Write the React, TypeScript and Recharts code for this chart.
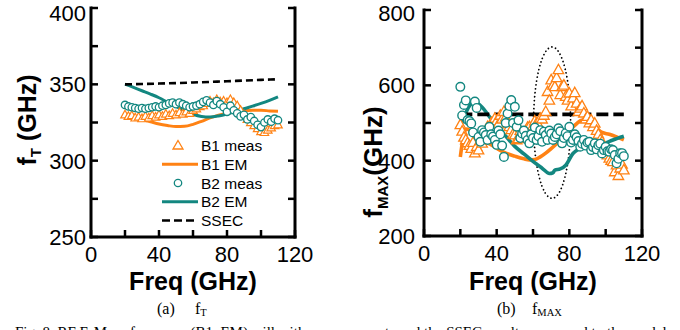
import React from 'react';
import { ComposedChart, XAxis, YAxis, Scatter, Line, Legend, ReferenceArea } from 'recharts';

const ORANGE = '#FF8214';
const TEAL = '#138780';
const SANS = '"Liberation Sans", Arial, sans-serif';
const SERIF = '"Liberation Serif", "Times New Roman", serif';

// ---------- panel (a): fT ----------
const measFreqA = [20,22,24,26,28,30,32,34,36,38,40,42,44,46,48,50,52,54,56,58,60,62,64,66,68,70,72,74,76,78,80,82,84,86,88,90,92,94,96,98,100,102,104,106,108,110];
const b1MeasFt = [330,329,329.5,328,328.5,327.5,329,328,329.5,328.5,330,329,330.5,329.5,331,330,331.5,330.5,332,331,333,334,335.5,336,337.5,339,338,340,338.5,339,338,340,338,336,333,330,327,325,323,321,319,318.5,320,321.5,323,323.5];
const b2MeasFt = [336.5,335.5,335,334.5,334,334.5,334,334.5,335,335.5,335,336,336.5,337.5,338,337,338,337,336,335,335.5,336,337,338.5,339.5,338,336.5,339,337,335,332,336,333,331,329,330,327,328.5,326,323.5,322,325,327,325.5,327.5,326.5];
const emFreqA = [20,25,30,35,40,45,50,55,60,65,70,75,80,85,90,95,100,105,110];
const b1EmFt = [330,328.5,327,325.5,324,323,322.3,322.5,323.8,325.8,328,329.8,331,332,332.7,333,333,332.6,332.3];
const b2EmFt = [350.2,348,345.8,343.6,341.2,338.3,335.5,332.7,330.4,329,328.6,329.3,330.6,332.3,334,335.7,337.5,339.5,341.8];
const ssecFreqA = [20,30,40,50,60,70,80,90,100,110];
const ssecFt = [350,350.2,350.5,350.8,351.2,351.6,352,352.5,352.9,353.3];

// ---------- panel (b): fMAX ----------
const measFreqB = [20,21,22,23,24,25,26,27,28,29,30,31,32,33,34,35,36,37,38,39,40,41,42,43,44,45,46,47,48,49,50,51,52,53,54,55,56,57,58,59,60,61,62,63,64,65,66,67,68,69,70,71,72,73,74,75,76,77,78,79,80,81,82,83,84,85,86,87,88,89,90,91,92,93,94,95,96,97,98,99,100,101,102,103,104,105,106,107,108,109,110];
const b1MeasFmax = [495,478,462,455,447,440,432,448,420,437,428,452,446,468,455,490,468,500,486,512,505,497,520,510,530,515,500,490,482,470,468,455,458,480,470,465,478,488,490,475,492,505,500,495,512,510,520,530,583,560,614,600,596,620,641,575,596,600,570,560,579,545,566,580,552,530,539,545,526,510,517,500,508,490,499,480,470,455,450,430,424,415,406,400,397,370,388,360,380,390,375];
const b2MeasFmax = [596,520,548,560,508,505,499,475,557,540,463,450,481,475,468,455,490,470,464,455,442,480,470,440,410,500,525,545,561,500,543,490,507,460,472,480,466,455,446,470,460,488,455,465,481,450,477,468,455,480,472,455,463,470,486,478,446,460,473,465,490,448,455,470,462,452,437,445,455,440,448,450,428,436,446,430,441,445,419,428,437,425,424,430,428,415,393,405,420,420,412];
const b1EmFreqB = [20,21,22,23.5,25,28,31,35,40,45,50,55,58,61,64,67,70,73,76,80,84,87,89,92,95,98,102,106,110];
const b1EmFmax = [410,445,472,484,481,467,458,448,433,420,412,405,402,403,410,420,432,445,460,480,498,508,506,498,486,475,470,463,455];
const b2EmFreqB = [20,22,25,27,29,32,36,40,45,50,55,60,65,69,71,72,75,78,82,85,88,92,97,100,104,110];
const b2EmFmax = [489,515,545,554,553,542,517,493,465,438,418,398,380,366,368,375,378,388,419,430,437,439,442,447,455,465];
const ssecFreqB = [20,30,40,50,60,70,80,90,100,110];
const ssecFmax = [523,523,523,523,523,523,523,523,523,523];
// highlighted region (dotted ellipse)
const ellipseFreq = [60.3, 80.7];
const ellipseFmax = [300, 702];

// ---------- axes ----------
const xTicks = [0,20,40,60,80,100,120];
const ftTicks = [250,275,300,325,350,375,400];
const fmaxTicks = [200,300,400,500,600,700,800];

const zip = (fs: number[], vs: number[]) => fs.map((f, i) => ({ f, v: vs[i] }));

const triShape = (size: number, sw: number) => (p: any) => {
  const { cx, cy } = p;
  if (cx == null || cy == null) return null;
  const h = size * 0.9;
  return <path d={`M${cx},${cy - h * 0.6}L${cx + size / 2},${cy + h * 0.4}L${cx - size / 2},${cy + h * 0.4}Z`} fill="#fff" stroke={ORANGE} strokeWidth={sw} />;
};
const circShape = (r: number, sw: number) => (p: any) => {
  const { cx, cy } = p;
  if (cx == null || cy == null) return null;
  return <circle cx={cx} cy={cy} r={r} fill="#fff" stroke={TEAL} strokeWidth={sw} />;
};

const bottomTick = (show: (v: number) => boolean) => (p: any) => {
  const { x, y, payload } = p;
  return (
    <g>
      <line x1={x} x2={x} y1={y} y2={y - 7} stroke="#000" strokeWidth={2.5} />
      {show(payload.value) && (
        <text x={x} y={y + 25} textAnchor="middle" fontSize={22} fontFamily={SANS} fill="#000">{payload.value}</text>
      )}
    </g>
  );
};
const leftTick = (show: (v: number) => boolean, gap: number) => (p: any) => {
  const { x, y, payload } = p;
  const baseline = Math.max(y + 7.9, 20.5);
  return (
    <g>
      <line x1={x} x2={x + 7} y1={y} y2={y} stroke="#000" strokeWidth={2.5} />
      {show(payload.value) && (
        <text x={x - gap} y={baseline} textAnchor="end" fontSize={22} fontFamily={SANS} fill="#000">{payload.value}</text>
      )}
    </g>
  );
};
const rightTick = (p: any) => {
  const { x, y } = p;
  return <line x1={x} x2={x - 7} y1={y} y2={y} stroke="#000" strokeWidth={2.5} />;
};

const axisLineStyle = { stroke: '#000', strokeWidth: 3, strokeLinecap: 'square' as const };

const legendItems = [
  { name: 'B1 meas', kind: 'tri', color: ORANGE },
  { name: 'B1 EM', kind: 'line', color: ORANGE },
  { name: 'B2 meas', kind: 'circle', color: TEAL },
  { name: 'B2 EM', kind: 'line', color: TEAL },
  { name: 'SSEC', kind: 'dash', color: '#000' },
];

const LegendBox = () => (
  <svg width={150} height={100} style={{ display: 'block', overflow: 'visible' }}>
    {legendItems.map((it, i) => {
      const y = 10.5 + i * 18.75;
      let icon: any = null;
      if (it.kind === 'tri') icon = <path d={`M18,${y - 5}L23,${y + 3.5}L13,${y + 3.5}Z`} fill="#fff" stroke={it.color} strokeWidth={1.3} />;
      if (it.kind === 'circle') icon = <circle cx={18} cy={y} r={3.7} fill="#fff" stroke={it.color} strokeWidth={1.3} />;
      if (it.kind === 'line') icon = <line x1={2} x2={38} y1={y} y2={y} stroke={it.color} strokeWidth={3} />;
      if (it.kind === 'dash') icon = <line x1={2} x2={36} y1={y} y2={y} stroke={it.color} strokeWidth={2.6} strokeDasharray="8 4" />;
      return (
        <g key={it.name}>
          {icon}
          <text x={41} y={y + 5.5} fontSize={15.5} fontFamily={SANS} fill="#000">{it.name}</text>
        </g>
      );
    })}
  </svg>
);

const EllipseShape = (p: any) => {
  const { x, y, width, height } = p;
  return (
    <ellipse cx={x + width / 2} cy={y + height / 2} rx={Math.abs(width) / 2} ry={Math.abs(height) / 2}
      fill="none" stroke="#000" strokeWidth={1.8} strokeDasharray="0.01 3.9" strokeLinecap="round" />
  );
};

const PanelA = () => (
  <ComposedChart width={340} height={330} margin={{ top: 8, right: 0, bottom: 0, left: 0 }}>
    <XAxis xAxisId={0} type="number" dataKey="f" domain={[0, 120]} ticks={xTicks} interval={0}
      height={93} tickSize={0} tickMargin={0} tickLine={false} axisLine={axisLineStyle}
      tick={bottomTick((v) => v % 40 === 0)} allowDataOverflow />
    <XAxis xAxisId="top" orientation="top" type="number" domain={[0, 120]} height={0}
      tick={false} tickLine={false} axisLine={axisLineStyle} allowDataOverflow />
    <YAxis yAxisId={0} type="number" dataKey="v" domain={[250, 400]} ticks={ftTicks} interval={0}
      width={91} tickSize={0} tickMargin={0} tickLine={false} axisLine={axisLineStyle}
      tick={leftTick((v) => v % 50 === 0, 5)} allowDataOverflow />
    <YAxis yAxisId="right" orientation="right" type="number" domain={[250, 400]} ticks={ftTicks} interval={0}
      width={45} tickSize={0} tickMargin={0} tickLine={false} axisLine={axisLineStyle}
      tick={rightTick} allowDataOverflow />
    <Legend layout="vertical" align="center" verticalAlign="middle" content={() => <LegendBox />}
      wrapperStyle={{ left: 160, top: 135, width: 150, height: 100 }} />
    <Scatter name="B1 meas" data={zip(measFreqA, b1MeasFt)} shape={triShape(8.5, 1.2)} isAnimationActive={false} />
    <Scatter name="B2 meas" data={zip(measFreqA, b2MeasFt)} shape={circShape(3.7, 1.3)} isAnimationActive={false} />
    <Line name="B1 EM" data={zip(emFreqA, b1EmFt)} dataKey="v" type="monotone" stroke={ORANGE} strokeWidth={3} dot={false} isAnimationActive={false} />
    <Line name="B2 EM" data={zip(emFreqA, b2EmFt)} dataKey="v" type="monotone" stroke={TEAL} strokeWidth={3} dot={false} isAnimationActive={false} />
    <Line name="SSEC" data={zip(ssecFreqA, ssecFt)} dataKey="v" type="monotone" stroke="#000" strokeWidth={2.6} strokeDasharray="7 4" dot={false} isAnimationActive={false} />
  </ComposedChart>
);

const PanelB = () => (
  <ComposedChart width={340} height={330} margin={{ top: 10, right: 0, bottom: 0, left: 0 }}>
    <XAxis xAxisId={0} type="number" dataKey="f" domain={[0, 120]} ticks={xTicks} interval={0}
      height={94} tickSize={0} tickMargin={0} tickLine={false} axisLine={axisLineStyle}
      tick={bottomTick((v) => v % 40 === 0)} allowDataOverflow />
    <XAxis xAxisId="top" orientation="top" type="number" domain={[0, 120]} height={0}
      tick={false} tickLine={false} axisLine={axisLineStyle} allowDataOverflow />
    <YAxis yAxisId={0} type="number" dataKey="v" domain={[200, 800]} ticks={fmaxTicks} interval={0}
      width={84} tickSize={0} tickMargin={0} tickLine={false} axisLine={axisLineStyle}
      tick={leftTick((v) => v % 200 === 0, 9)} allowDataOverflow />
    <YAxis yAxisId="right" orientation="right" type="number" domain={[200, 800]} ticks={fmaxTicks} interval={0}
      width={38} tickSize={0} tickMargin={0} tickLine={false} axisLine={axisLineStyle}
      tick={rightTick} allowDataOverflow />
    <Scatter name="B1 meas" data={zip(measFreqB, b1MeasFmax)} shape={triShape(10.5, 1.3)} isAnimationActive={false} />
    <Scatter name="B2 meas" data={zip(measFreqB, b2MeasFmax)} shape={circShape(4.3, 1.4)} isAnimationActive={false} />
    <Line name="B1 EM" data={zip(b1EmFreqB, b1EmFmax)} dataKey="v" type="monotone" stroke={ORANGE} strokeWidth={3.6} dot={false} isAnimationActive={false} />
    <Line name="B2 EM" data={zip(b2EmFreqB, b2EmFmax)} dataKey="v" type="monotone" stroke={TEAL} strokeWidth={3.6} dot={false} isAnimationActive={false} />
    <Line name="SSEC" data={zip(ssecFreqB, ssecFmax)} dataKey="v" type="linear" stroke="#000" strokeWidth={3.6} strokeDasharray="12 5" dot={false} isAnimationActive={false} />
    <ReferenceArea x1={ellipseFreq[0]} x2={ellipseFreq[1]} y1={ellipseFmax[0]} y2={ellipseFmax[1]}
      shape={EllipseShape} ifOverflow="visible" />
  </ComposedChart>
);

export default function App() {
  return (
    <div style={{ position: 'fixed', left: 0, top: 0, width: 680, height: 330, background: '#fff', overflow: 'hidden' }}>
      <div style={{ position: 'absolute', left: 0, top: 0 }}><PanelA /></div>
      <div style={{ position: 'absolute', left: 340, top: 0 }}><PanelB /></div>
      <svg width={680} height={330} style={{ position: 'absolute', left: 0, top: 0, pointerEvents: 'none' }}>
        {/* axis titles */}
        <text x={193} y={290} textAnchor="middle" fontSize={25} fontWeight="bold" fontFamily={SANS}>Freq (GHz)</text>
        <text x={533} y={290} textAnchor="middle" fontSize={25} fontWeight="bold" fontFamily={SANS}>Freq (GHz)</text>
        <text x={36} y={120} textAnchor="middle" fontSize={25} fontWeight="bold" fontFamily={SANS} transform="rotate(-90 36 120)">
          f<tspan fontSize={15} dy={5}>T</tspan><tspan dy={-5}> (GHz)</tspan>
        </text>
        <text x={382} y={162} textAnchor="middle" fontSize={26} fontWeight="bold" fontFamily={SANS} transform="rotate(-90 382 162)">
          f<tspan fontSize={15} dy={6}>MAX</tspan><tspan dy={-6}>(GHz)</tspan>
        </text>
        {/* captions */}
        <text x={157} y={314} fontSize={16} fontFamily={SERIF}>(a)</text>
        <text x={195} y={314} fontSize={16} fontFamily={SERIF}>f<tspan fontSize={10.5} dy={2}>T</tspan></text>
        <text x={497} y={314} fontSize={16} fontFamily={SERIF}>(b)</text>
        <text x={532} y={314} fontSize={16} fontFamily={SERIF}>f<tspan fontSize={10.5} dy={2}>MAX</tspan></text>
        <text x={15} y={337} fontSize={15} fontFamily={SERIF}>Fig. 8.  RF E-M performance (B1, EM) will with measurements and the SSEC results compared to the model</text>
      </svg>
    </div>
  );
}
